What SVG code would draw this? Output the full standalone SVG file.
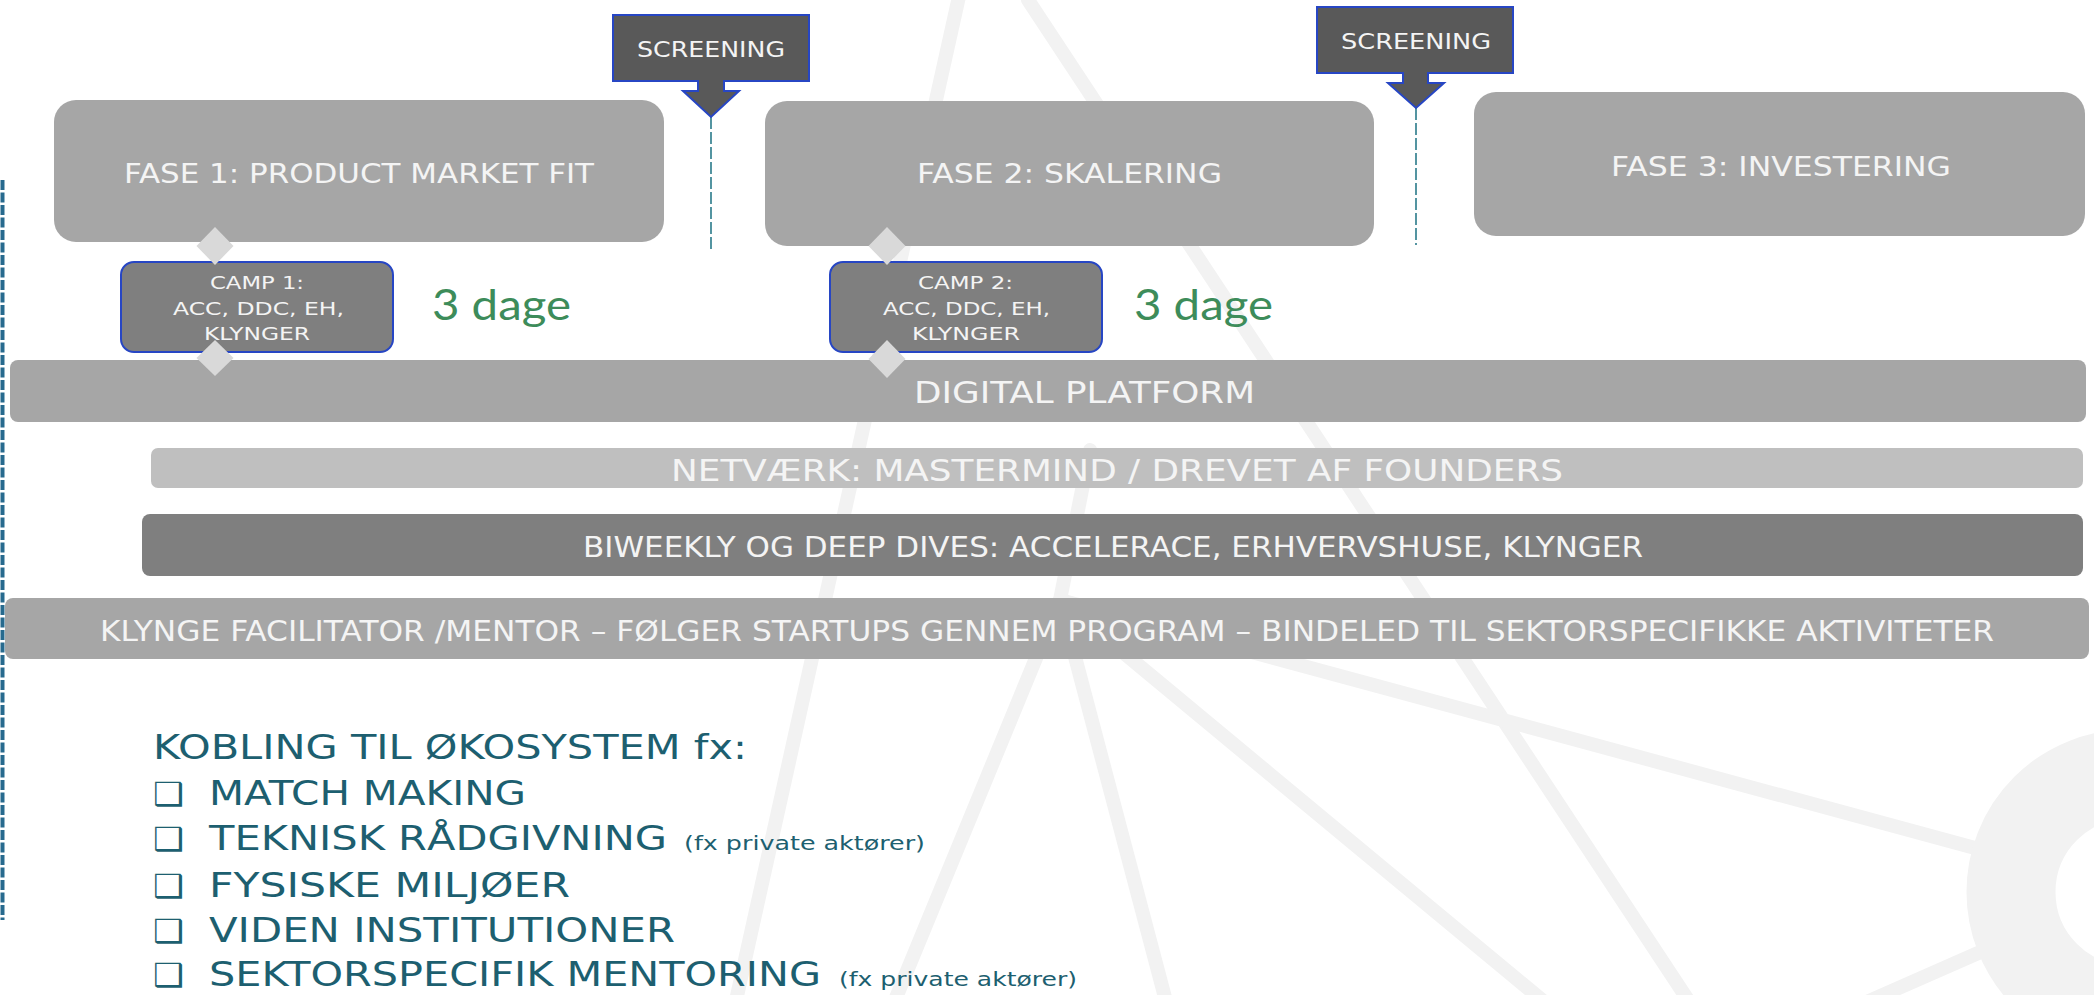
<svg xmlns="http://www.w3.org/2000/svg" width="2094" height="995" viewBox="0 0 2094 995">
<style>
.t{font-family:"DejaVu Sans","Liberation Sans",sans-serif;fill:#f4f4f4}
.phase{fill:#a6a6a6}
.bar{fill:#a6a6a6}
.wm{stroke:#f2f2f2;stroke-width:14;fill:none;stroke-linecap:round}
.scr{fill:#595959;stroke:#2746c4;stroke-width:2;stroke-linejoin:miter}
.camp{fill:#7f7f7f;stroke:#2746c4;stroke-width:2}
.dia{fill:#d9d9d9}
.vdash{stroke:#2a7b8a;stroke-width:1.6;stroke-dasharray:12 3;fill:none}
.eco{font-family:"DejaVu Sans","Liberation Sans",sans-serif;fill:#1d5f70}
.green{font-family:Lato,"Noto Sans",sans-serif;fill:#3d8c5a}
</style>
<rect width="2094" height="995" fill="#ffffff"/>
<g id="watermark">
<path class="wm" d="M976,-80 L735,1005"/>
<path class="wm" d="M1028,0 L1690,1003"/>
<path class="wm" d="M1060,600 L893,1005"/>
<path class="wm" d="M1060,600 L1167,1005"/>
<path class="wm" d="M1060,600 L1548,1005"/>
<path class="wm" d="M1060,600 L1975,848"/>
<path class="wm" d="M1060,600 L1090,450"/>
<path class="wm" d="M1985,950 L1860,1005"/>
<circle cx="2129" cy="892" r="118" fill="none" stroke="#f2f2f2" stroke-width="89"/>
</g>
<line x1="2.5" y1="180" x2="2.5" y2="920" stroke="#276a8e" stroke-width="4" stroke-dasharray="10 2.5"/>
<g id="connectors">
<line class="vdash" x1="711" y1="117" x2="711" y2="250"/>
<line class="vdash" x1="1416" y1="108" x2="1416" y2="245"/>
</g>
<g id="fase1">
<rect class="phase" x="54" y="100" width="610" height="142" rx="22"/>
<text class="t" x="124" y="183" font-size="27" textLength="470" lengthAdjust="spacingAndGlyphs">FASE 1: PRODUCT MARKET FIT</text>
</g>
<g id="fase2">
<rect class="phase" x="765" y="101" width="609" height="145" rx="22"/>
<text class="t" x="917" y="183" font-size="27" textLength="305" lengthAdjust="spacingAndGlyphs">FASE 2: SKALERING</text>
</g>
<g id="fase3">
<rect class="phase" x="1474" y="92" width="611" height="144" rx="22"/>
<text class="t" x="1611" y="176" font-size="27" textLength="340" lengthAdjust="spacingAndGlyphs">FASE 3: INVESTERING</text>
</g>
<g id="screening1">
<path class="scr" d="M613,15 H809 V81 H724 V91 H739 L711,117 L683,91 H698 V81 H613 Z"/>
<text class="t" x="637" y="57" font-size="21.5" textLength="148" lengthAdjust="spacingAndGlyphs">SCREENING</text>
</g>
<g id="screening2">
<path class="scr" d="M1317,7 H1513 V73 H1428 V83 H1444 L1416,108 L1388,83 H1403 V73 H1317 Z"/>
<text class="t" x="1341" y="49" font-size="21.5" textLength="150" lengthAdjust="spacingAndGlyphs">SCREENING</text>
</g>
<g id="digital-platform">
<rect class="bar" x="10" y="360" width="2076" height="62" rx="8"/>
<text class="t" x="914" y="403" font-size="31" textLength="341" lengthAdjust="spacingAndGlyphs">DIGITAL PLATFORM</text>
</g>
<g id="netvaerk">
<rect x="151" y="448" width="1932" height="40" rx="7" fill="#bfbfbf"/>
<text class="t" x="671" y="481" font-size="31" textLength="892" lengthAdjust="spacingAndGlyphs">NETVÆRK: MASTERMIND / DREVET AF FOUNDERS</text>
</g>
<g id="biweekly">
<rect x="142" y="514" width="1941" height="62" rx="8" fill="#7f7f7f"/>
<text class="t" x="583" y="557" font-size="27.5" textLength="1060" lengthAdjust="spacingAndGlyphs">BIWEEKLY OG DEEP DIVES: ACCELERACE, ERHVERVSHUSE, KLYNGER</text>
</g>
<g id="klynge-facilitator">
<rect class="bar" x="5" y="598" width="2084" height="61" rx="8"/>
<text class="t" x="100" y="641" font-size="27.5" textLength="1894" lengthAdjust="spacingAndGlyphs">KLYNGE FACILITATOR /MENTOR – FØLGER STARTUPS GENNEM PROGRAM – BINDELED TIL SEKTORSPECIFIKKE AKTIVITETER</text>
</g>
<g id="camp1">
<rect class="camp" x="121" y="262" width="272" height="90" rx="13"/>
<text class="t" x="210" y="289" font-size="18.5" textLength="94" lengthAdjust="spacingAndGlyphs">CAMP 1:</text>
<text class="t" x="173" y="315" font-size="18.5" textLength="171" lengthAdjust="spacingAndGlyphs">ACC, DDC, EH,</text>
<text class="t" x="204" y="340" font-size="18.5" textLength="106" lengthAdjust="spacingAndGlyphs">KLYNGER</text>
</g>
<g id="camp2">
<rect class="camp" x="830" y="262" width="272" height="90" rx="13"/>
<text class="t" x="918" y="289" font-size="18.5" textLength="95" lengthAdjust="spacingAndGlyphs">CAMP 2:</text>
<text class="t" x="883" y="315" font-size="18.5" textLength="167" lengthAdjust="spacingAndGlyphs">ACC, DDC, EH,</text>
<text class="t" x="912" y="340" font-size="18.5" textLength="108" lengthAdjust="spacingAndGlyphs">KLYNGER</text>
</g>
<g id="diamonds">
<path class="dia" d="M215,227 L233.5,246 L215,265 L196.5,246 Z"/>
<path class="dia" d="M215,340 L233.5,358 L215,376 L196.5,358 Z"/>
<path class="dia" d="M887,227 L905.5,246 L887,265 L868.5,246 Z"/>
<path class="dia" d="M887,340 L905.5,359 L887,378 L868.5,359 Z"/>
</g>
<g id="duration1">
<text class="green" x="432" y="320" font-size="42" textLength="139" lengthAdjust="spacingAndGlyphs">3 dage</text>
</g>
<g id="duration2">
<text class="green" x="1134" y="320" font-size="42" textLength="139" lengthAdjust="spacingAndGlyphs">3 dage</text>
</g>
<g id="ecosystem">
<text class="eco" x="153" y="759" font-size="34" textLength="594" lengthAdjust="spacingAndGlyphs">KOBLING TIL ØKOSYSTEM fx:</text>
<text class="eco" x="153" y="805" font-size="32" textLength="31" lengthAdjust="spacingAndGlyphs">❑</text>
<text class="eco" x="209" y="805" font-size="34" textLength="317" lengthAdjust="spacingAndGlyphs">MATCH MAKING</text>
<text class="eco" x="153" y="850" font-size="32" textLength="31" lengthAdjust="spacingAndGlyphs">❑</text>
<text class="eco" x="209" y="850" font-size="34" textLength="458" lengthAdjust="spacingAndGlyphs">TEKNISK RÅDGIVNING</text>
<text class="eco" x="684" y="850" font-size="20" textLength="241" lengthAdjust="spacingAndGlyphs">(fx private aktører)</text>
<text class="eco" x="153" y="897" font-size="32" textLength="31" lengthAdjust="spacingAndGlyphs">❑</text>
<text class="eco" x="209" y="897" font-size="34" textLength="361" lengthAdjust="spacingAndGlyphs">FYSISKE MILJØER</text>
<text class="eco" x="153" y="942" font-size="32" textLength="31" lengthAdjust="spacingAndGlyphs">❑</text>
<text class="eco" x="209" y="942" font-size="34" textLength="466" lengthAdjust="spacingAndGlyphs">VIDEN INSTITUTIONER</text>
<text class="eco" x="153" y="986" font-size="32" textLength="31" lengthAdjust="spacingAndGlyphs">❑</text>
<text class="eco" x="209" y="986" font-size="34" textLength="612" lengthAdjust="spacingAndGlyphs">SEKTORSPECIFIK MENTORING</text>
<text class="eco" x="839" y="986" font-size="20" textLength="238" lengthAdjust="spacingAndGlyphs">(fx private aktører)</text>
</g>
</svg>
